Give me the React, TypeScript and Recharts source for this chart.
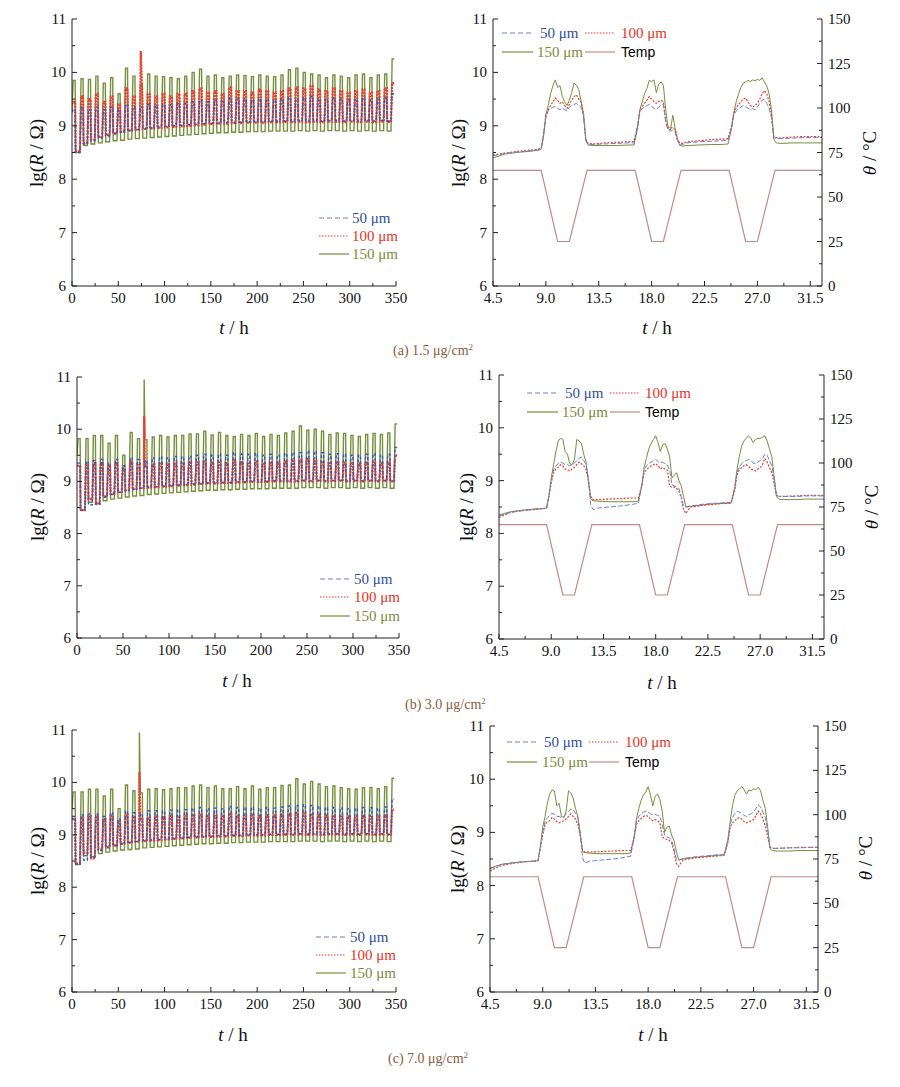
import React from "react";
import { LineChart, Line, XAxis, YAxis } from "recharts";

// ---------- long runs (0-350 h): one entry per temperature cycle ----------
const CYCLE_T = [
  0, 8.6, 16.6, 24.6, 32.6, 40.6, 48.6, 56.6, 64.6, 72.6, 80.6, 88.6, 96.6, 104.6, 112.6,
  120.6, 128.6, 136.6, 144.6, 152.6, 160.6, 168.6, 176.6, 184.6, 192.6, 200.6, 208.6, 216.6,
  224.6, 232.6, 240.6, 248.6, 256.6, 264.6, 272.6, 280.6, 288.6, 296.6, 304.6, 312.6, 320.6,
  328.6, 336.6, 344.6,
];

// (a) 1.5 ug/cm2
const PEAK150_A = [9.85, 9.88, 9.87, 9.93, 9.8, 9.9, 9.6, 10.08, 9.93, 9.78, 9.97, 9.93, 9.92, 9.9, 9.88, 9.93, 10.0, 10.06, 9.93, 9.95, 9.9, 9.93, 9.95, 9.94, 9.92, 9.95, 9.93, 9.92, 9.95, 10.05, 10.08, 10.0, 9.97, 9.95, 9.9, 9.95, 9.93, 9.9, 9.95, 9.97, 9.9, 9.95, 9.97, 10.25];
const PEAK100_A = [9.45, 9.55, 9.5, 9.6, 9.45, 9.55, 9.4, 9.7, 9.55, 9.5, 9.6, 9.55, 9.6, 9.55, 9.6, 9.6, 9.65, 9.7, 9.62, 9.65, 9.6, 9.72, 9.65, 9.65, 9.62, 9.68, 9.65, 9.62, 9.65, 9.7, 9.72, 9.7, 9.75, 9.68, 9.65, 9.7, 9.65, 9.62, 9.65, 9.68, 9.62, 9.65, 9.7, 9.8];
const PEAK50_A = [9.3, 9.35, 9.3, 9.35, 9.3, 9.35, 9.3, 9.4, 9.35, 9.35, 9.4, 9.38, 9.4, 9.4, 9.42, 9.42, 9.45, 9.48, 9.45, 9.48, 9.45, 9.52, 9.5, 9.5, 9.48, 9.5, 9.5, 9.48, 9.5, 9.52, 9.5, 9.52, 9.55, 9.5, 9.5, 9.52, 9.5, 9.48, 9.5, 9.52, 9.48, 9.5, 9.52, 9.6];
const BASE150_A = [9.3, 8.5, 8.63, 8.66, 8.68, 8.7, 8.72, 8.73, 8.75, 8.76, 8.77, 8.78, 8.79, 8.8, 8.81, 8.82, 8.83, 8.84, 8.85, 8.86, 8.87, 8.87, 8.88, 8.88, 8.89, 8.89, 8.89, 8.9, 8.9, 8.9, 8.9, 8.91, 8.9, 8.91, 8.9, 8.91, 8.91, 8.9, 8.91, 8.9, 8.91, 8.9, 8.91, 8.9];
const BASE100_A = [9.4, 8.52, 8.68, 8.74, 8.79, 8.83, 8.86, 8.89, 8.91, 8.93, 8.94, 8.95, 8.96, 8.97, 8.98, 8.99, 9.0, 9.01, 9.02, 9.03, 9.04, 9.04, 9.05, 9.05, 9.06, 9.06, 9.06, 9.07, 9.07, 9.07, 9.07, 9.08, 9.07, 9.08, 9.07, 9.08, 9.08, 9.07, 9.08, 9.07, 9.08, 9.07, 9.08, 9.07];
const BASE50_A = [9.25, 8.5, 8.66, 8.72, 8.77, 8.81, 8.85, 8.88, 8.91, 8.93, 8.95, 8.96, 8.98, 8.99, 9.0, 9.01, 9.02, 9.03, 9.04, 9.05, 9.05, 9.06, 9.06, 9.07, 9.07, 9.08, 9.08, 9.08, 9.09, 9.09, 9.09, 9.1, 9.09, 9.1, 9.09, 9.1, 9.1, 9.09, 9.1, 9.09, 9.1, 9.09, 9.1, 9.09];
const SPIKE_A = { t: 74.3, s100: 10.4 };

// (b) 3.0 ug/cm2
const PEAK150_B = [9.82, 9.82, 9.88, 9.88, 9.73, 9.88, 9.5, 9.94, 9.82, 9.8, 9.85, 9.88, 9.85, 9.88, 9.88, 9.91, 9.91, 9.96, 9.89, 9.94, 9.88, 9.86, 9.9, 9.88, 9.92, 9.86, 9.9, 9.88, 9.93, 9.96, 10.06, 9.98, 10.0, 9.96, 9.9, 9.93, 9.92, 9.88, 9.86, 9.9, 9.92, 9.9, 9.93, 10.1];
const PEAK100_B = [9.3, 9.32, 9.35, 9.35, 9.3, 9.35, 9.25, 9.38, 9.33, 9.3, 9.32, 9.35, 9.33, 9.35, 9.35, 9.37, 9.38, 9.4, 9.36, 9.38, 9.35, 9.4, 9.37, 9.36, 9.38, 9.35, 9.37, 9.36, 9.38, 9.4, 9.42, 9.43, 9.4, 9.38, 9.36, 9.37, 9.36, 9.35, 9.34, 9.36, 9.37, 9.35, 9.36, 9.5];
const PEAK50_B = [9.35, 9.38, 9.4, 9.42, 9.35, 9.42, 9.3, 9.45, 9.42, 9.4, 9.45, 9.47, 9.45, 9.48, 9.47, 9.48, 9.5, 9.52, 9.5, 9.52, 9.5, 9.55, 9.52, 9.52, 9.53, 9.5, 9.52, 9.5, 9.53, 9.55, 9.55, 9.58, 9.57, 9.55, 9.52, 9.53, 9.52, 9.5, 9.5, 9.52, 9.53, 9.5, 9.52, 9.65];
const BASE150_B = [9.5, 8.45, 8.6, 8.58, 8.63, 8.66, 8.68, 8.7, 8.72, 8.73, 8.75, 8.76, 8.77, 8.78, 8.79, 8.8, 8.81, 8.82, 8.83, 8.83, 8.84, 8.84, 8.85, 8.85, 8.86, 8.86, 8.86, 8.87, 8.87, 8.87, 8.87, 8.88, 8.88, 8.88, 8.87, 8.88, 8.88, 8.87, 8.88, 8.87, 8.88, 8.87, 8.88, 8.87];
const BASE100_B = [9.3, 8.45, 8.66, 8.57, 8.71, 8.76, 8.8, 8.83, 8.85, 8.87, 8.88, 8.89, 8.9, 8.91, 8.92, 8.93, 8.94, 8.95, 8.96, 8.96, 8.97, 8.97, 8.98, 8.98, 8.99, 8.99, 8.99, 9.0, 9.0, 9.0, 9.0, 9.01, 9.0, 9.01, 9.0, 9.01, 9.01, 9.0, 9.01, 9.0, 9.01, 9.0, 9.01, 9.0];
const BASE50_B = [9.35, 8.45, 8.55, 8.57, 8.7, 8.75, 8.79, 8.82, 8.85, 8.87, 8.89, 8.9, 8.91, 8.92, 8.93, 8.94, 8.95, 8.96, 8.97, 8.97, 8.98, 8.98, 8.99, 8.99, 9.0, 9.0, 9.0, 9.01, 9.01, 9.01, 9.01, 9.02, 9.01, 9.02, 9.01, 9.02, 9.02, 9.01, 9.02, 9.01, 9.02, 9.01, 9.02, 9.01];
const SPIKE_B = { t: 73.0, s150: 10.95, s100: 10.25 };

// (c) 7.0 ug/cm2
const PEAK150_C = [9.82, 9.82, 9.87, 9.87, 9.74, 9.87, 9.5, 9.95, 9.84, 9.8, 9.87, 9.88, 9.86, 9.88, 9.9, 9.9, 9.93, 9.95, 9.9, 9.93, 9.88, 9.88, 9.92, 9.88, 9.93, 9.87, 9.9, 9.9, 9.94, 9.95, 10.07, 9.97, 10.02, 9.97, 9.92, 9.93, 9.9, 9.88, 9.87, 9.9, 9.9, 9.88, 9.92, 10.08];
const PEAK100_C = [9.3, 9.33, 9.36, 9.35, 9.3, 9.36, 9.25, 9.38, 9.34, 9.3, 9.33, 9.35, 9.34, 9.36, 9.35, 9.37, 9.38, 9.39, 9.36, 9.38, 9.36, 9.4, 9.37, 9.37, 9.38, 9.36, 9.37, 9.37, 9.39, 9.4, 9.42, 9.42, 9.4, 9.38, 9.37, 9.36, 9.36, 9.35, 9.35, 9.36, 9.36, 9.35, 9.37, 9.48];
const PEAK50_C = [9.35, 9.38, 9.4, 9.4, 9.35, 9.42, 9.3, 9.45, 9.42, 9.4, 9.46, 9.46, 9.45, 9.47, 9.48, 9.48, 9.5, 9.52, 9.5, 9.51, 9.5, 9.54, 9.52, 9.52, 9.52, 9.5, 9.52, 9.51, 9.53, 9.55, 9.56, 9.57, 9.56, 9.54, 9.52, 9.52, 9.51, 9.5, 9.5, 9.52, 9.52, 9.5, 9.53, 9.68];
const BASE150_C = [9.5, 8.43, 8.6, 8.58, 8.64, 8.67, 8.69, 8.71, 8.72, 8.73, 8.75, 8.76, 8.77, 8.78, 8.79, 8.8, 8.81, 8.82, 8.83, 8.83, 8.84, 8.84, 8.85, 8.85, 8.86, 8.86, 8.86, 8.87, 8.87, 8.87, 8.87, 8.88, 8.88, 8.88, 8.87, 8.88, 8.88, 8.87, 8.88, 8.87, 8.88, 8.87, 8.88, 8.87];
const BASE100_C = [9.3, 8.45, 8.66, 8.55, 8.72, 8.77, 8.8, 8.83, 8.85, 8.87, 8.88, 8.89, 8.9, 8.91, 8.92, 8.93, 8.94, 8.95, 8.96, 8.96, 8.97, 8.97, 8.98, 8.98, 8.99, 8.99, 8.99, 9.0, 9.0, 9.0, 9.0, 9.01, 9.0, 9.01, 9.0, 9.01, 9.01, 9.0, 9.01, 9.0, 9.01, 9.0, 9.01, 9.0];
const BASE50_C = [9.35, 8.44, 8.52, 8.57, 8.7, 8.75, 8.79, 8.82, 8.85, 8.87, 8.89, 8.9, 8.91, 8.92, 8.93, 8.94, 8.95, 8.96, 8.97, 8.97, 8.98, 8.98, 8.99, 8.99, 9.0, 9.0, 9.0, 9.01, 9.01, 9.01, 9.01, 9.02, 9.01, 9.02, 9.01, 9.02, 9.02, 9.01, 9.02, 9.01, 9.02, 9.01, 9.02, 9.01];
const SPIKE_C = { t: 72.8, s150: 10.95, s100: 10.2 };

// ---------- zoomed window (4.5-32.5 h) ----------
const ZT = [
  4.5, 5.5, 6.5, 7.5, 8.3, 8.6, 8.8, 9.0, 9.2, 9.4,
  9.6, 9.8, 10.0, 10.2, 10.4, 10.6, 10.8, 11.0, 11.2, 11.4,
  11.6, 11.8, 12.0, 12.2, 12.4, 12.6, 13.0, 14.0, 15.0, 16.0,
  16.5, 16.8, 17.0, 17.2, 17.4, 17.6, 17.8, 18.0, 18.2, 18.4,
  18.6, 18.8, 19.0, 19.2, 19.4, 19.6, 19.8, 20.0, 20.2, 20.4,
  20.6, 21.0, 22.0, 23.0, 24.0, 24.5, 24.8, 25.0, 25.2, 25.4,
  25.6, 25.8, 26.0, 26.2, 26.4, 26.6, 26.8, 27.0, 27.2, 27.4,
  27.6, 27.8, 28.0, 28.2, 28.4, 28.6, 29.0, 30.0, 31.0, 32.0,
  32.5,
];
const Z150_A = [
  8.4, 8.47, 8.5, 8.52, 8.54, 8.56, 8.8, 9.2, 9.38, 9.6,
  9.75, 9.86, 9.72, 9.75, 9.55, 9.45, 9.38, 9.48, 9.62, 9.8,
  9.76, 9.68, 9.45, 9.2, 8.72, 8.64, 8.63, 8.63, 8.63, 8.64,
  8.64, 8.95, 9.3, 9.45, 9.6, 9.7, 9.85, 9.83, 9.86, 9.62,
  9.78, 9.82, 9.76, 9.3, 8.95, 8.92, 9.2, 8.95, 8.75, 8.63,
  8.62, 8.63, 8.64, 8.65, 8.65, 8.66, 8.95, 9.25, 9.45, 9.6,
  9.72, 9.8, 9.82, 9.85, 9.83, 9.86, 9.84, 9.87, 9.85, 9.9,
  9.82, 9.75, 9.6, 9.3, 8.75, 8.68, 8.67, 8.68, 8.68, 8.68,
  8.68,
];
const Z100_A = [
  8.45, 8.49, 8.52, 8.54, 8.56, 8.58, 8.85, 9.2, 9.3, 9.38,
  9.45, 9.52, 9.48, 9.42, 9.45, 9.38, 9.33, 9.4, 9.48, 9.55,
  9.58, 9.5, 9.45, 9.25, 8.75, 8.67, 8.66, 8.68, 8.69, 8.7,
  8.71, 9.0, 9.3, 9.36, 9.42, 9.48, 9.55, 9.5, 9.45, 9.42,
  9.45, 9.48, 9.45, 9.1, 8.98, 8.95, 8.97, 8.93, 8.75, 8.68,
  8.67, 8.7, 8.72, 8.74, 8.75, 8.76, 9.0, 9.25, 9.33, 9.4,
  9.45, 9.5, 9.52, 9.45, 9.38, 9.35, 9.38, 9.42, 9.5, 9.6,
  9.66, 9.6, 9.45, 9.2, 8.8, 8.78, 8.77, 8.79, 8.8, 8.8,
  8.79,
];
const Z50_A = [
  8.44, 8.48, 8.51, 8.53, 8.55, 8.57, 8.82, 9.15, 9.28, 9.32,
  9.35, 9.36, 9.33, 9.3, 9.33, 9.3, 9.28, 9.35, 9.38, 9.4,
  9.42, 9.38, 9.35, 9.2, 8.74, 8.65, 8.65, 8.66, 8.67, 8.68,
  8.68, 8.98, 9.27, 9.32, 9.35, 9.38, 9.4, 9.36, 9.33, 9.3,
  9.35, 9.38, 9.4, 9.05, 8.92, 8.9, 8.92, 8.88, 8.72, 8.64,
  8.65, 8.68, 8.7, 8.71, 8.72, 8.73, 8.95, 9.2, 9.28, 9.32,
  9.35, 9.38, 9.36, 9.33, 9.3, 9.32, 9.3, 9.35, 9.42, 9.48,
  9.5, 9.42, 9.32, 9.15, 8.78, 8.76, 8.76, 8.77, 8.78, 8.78,
  8.78,
];
const Z150_B = [
  8.35, 8.41, 8.44, 8.46, 8.47, 8.48, 8.7, 9.05, 9.3, 9.55,
  9.75, 9.8, 9.78, 9.55, 9.5, 9.32, 9.3, 9.4, 9.78, 9.75,
  9.7, 9.5, 9.35, 9.0, 8.65, 8.62, 8.61, 8.6, 8.6, 8.6,
  8.61, 8.9, 9.25, 9.42, 9.6, 9.7, 9.78, 9.85, 9.72, 9.55,
  9.68, 9.7, 9.6, 9.45, 9.05, 9.1, 9.15, 9.0, 8.9, 8.7,
  8.5, 8.51, 8.54, 8.56, 8.57, 8.58, 8.85, 9.2, 9.45, 9.65,
  9.75, 9.8, 9.85, 9.8, 9.72, 9.78, 9.8, 9.8, 9.82, 9.85,
  9.75, 9.6, 9.45, 9.1, 8.7, 8.65, 8.64, 8.64, 8.65, 8.65,
  8.65,
];
const Z100_B = [
  8.3, 8.4, 8.43, 8.45, 8.47, 8.48, 8.7, 8.95, 9.15, 9.22,
  9.25, 9.3, 9.28, 9.22, 9.2, 9.18, 9.22, 9.25, 9.3, 9.35,
  9.32, 9.28, 9.2, 9.0, 8.7, 8.64, 8.64, 8.65, 8.66, 8.67,
  8.67, 8.9, 9.15, 9.2, 9.25, 9.28, 9.3, 9.32, 9.28, 9.22,
  9.25, 9.22, 9.2, 8.9, 8.87, 8.88, 8.85, 8.8, 8.68, 8.45,
  8.38, 8.5, 8.53, 8.55, 8.57, 8.57, 8.8, 9.1, 9.2, 9.25,
  9.28, 9.3, 9.27, 9.22, 9.2, 9.18, 9.22, 9.25, 9.3, 9.42,
  9.35, 9.25, 9.15, 8.95, 8.72, 8.7, 8.7, 8.71, 8.72, 8.72,
  8.72,
];
const Z50_B = [
  8.33, 8.4, 8.43, 8.46, 8.47, 8.48, 8.72, 9.0, 9.2, 9.28,
  9.32, 9.35, 9.33, 9.3, 9.3, 9.28, 9.3, 9.33, 9.38, 9.42,
  9.45, 9.38, 9.3, 9.05, 8.55, 8.45, 8.48, 8.5, 8.52, 8.55,
  8.57, 8.9, 9.2, 9.28, 9.32, 9.35, 9.38, 9.4, 9.36, 9.33,
  9.35, 9.32, 9.3, 9.2, 8.92, 8.9, 8.88, 8.85, 8.7, 8.52,
  8.5, 8.52, 8.55, 8.57, 8.58, 8.59, 8.85, 9.15, 9.25, 9.32,
  9.36, 9.38, 9.4, 9.38, 9.33, 9.32, 9.35, 9.38, 9.42, 9.5,
  9.48, 9.38, 9.28, 9.05, 8.72, 8.7, 8.7, 8.7, 8.71, 8.71,
  8.71,
];
const Z150_C = [
  8.33, 8.4, 8.43, 8.45, 8.46, 8.47, 8.75, 9.1, 9.3, 9.55,
  9.72, 9.8, 9.78, 9.5, 9.55, 9.3, 9.28, 9.4, 9.78, 9.74,
  9.65, 9.45, 9.3, 8.95, 8.64, 8.62, 8.61, 8.6, 8.6, 8.6,
  8.61, 8.9, 9.25, 9.45, 9.6, 9.7, 9.76, 9.86, 9.7, 9.5,
  9.68, 9.72, 9.62, 9.4, 9.0, 9.1, 9.12, 8.95, 8.85, 8.65,
  8.48, 8.5, 8.53, 8.55, 8.57, 8.58, 8.85, 9.2, 9.5, 9.7,
  9.78, 9.82, 9.86, 9.8, 9.72, 9.8, 9.78, 9.82, 9.8, 9.85,
  9.78, 9.6, 9.45, 9.1, 8.7, 8.66, 8.65, 8.65, 8.66, 8.66,
  8.66,
];
const Z100_C = [
  8.28, 8.38, 8.42, 8.45, 8.46, 8.47, 8.7, 8.95, 9.15, 9.2,
  9.22, 9.28, 9.25, 9.2, 9.18, 9.2, 9.22, 9.25, 9.3, 9.35,
  9.3, 9.25, 9.15, 8.95, 8.68, 8.63, 8.63, 8.64, 8.65, 8.66,
  8.66, 8.9, 9.15, 9.22, 9.26, 9.3, 9.32, 9.3, 9.25, 9.22,
  9.24, 9.22, 9.18, 8.92, 8.88, 8.87, 8.85, 8.8, 8.65, 8.42,
  8.36, 8.49, 8.52, 8.54, 8.56, 8.57, 8.8, 9.1, 9.18, 9.22,
  9.26, 9.28, 9.25, 9.2, 9.18, 9.2, 9.22, 9.24, 9.32, 9.4,
  9.35, 9.25, 9.12, 8.92, 8.72, 8.7, 8.7, 8.71, 8.72, 8.72,
  8.72,
];
const Z50_C = [
  8.32, 8.4, 8.43, 8.45, 8.46, 8.47, 8.72, 9.0, 9.2, 9.28,
  9.32, 9.36, 9.34, 9.3, 9.3, 9.28, 9.3, 9.34, 9.4, 9.44,
  9.42, 9.36, 9.28, 9.02, 8.52, 8.42, 8.46, 8.48, 8.5, 8.53,
  8.55, 8.9, 9.2, 9.3, 9.35, 9.38, 9.4, 9.38, 9.35, 9.33,
  9.34, 9.32, 9.3, 9.15, 8.95, 8.92, 8.9, 8.85, 8.7, 8.5,
  8.48, 8.51, 8.54, 8.56, 8.58, 8.59, 8.85, 9.15, 9.28, 9.35,
  9.4, 9.38, 9.36, 9.32, 9.3, 9.33, 9.35, 9.38, 9.45, 9.52,
  9.48, 9.38, 9.28, 9.05, 8.72, 8.7, 8.7, 8.71, 8.71, 8.72,
  8.72,
];
const TEMP_T = [4.5, 8.6, 10.0, 11.0, 12.5, 16.6, 18.0, 19.0, 20.5, 24.6, 26.0, 27.0, 28.5, 32.5];
const TEMP_V = [65, 65, 25, 25, 65, 65, 25, 25, 65, 65, 25, 25, 65, 65];

// ---------- ticks and labels ----------
const LONG_X_TICKS = [0, 25, 50, 75, 100, 125, 150, 175, 200, 225, 250, 275, 300, 325, 350];
const ZOOM_X_TICKS = [4.5, 6.75, 9, 11.25, 13.5, 15.75, 18, 20.25, 22.5, 24.75, 27, 29.25, 31.5];
const R_TICKS = [6, 6.5, 7, 7.5, 8, 8.5, 9, 9.5, 10, 10.5, 11];
const TEMP_TICKS = [0, 12.5, 25, 37.5, 50, 62.5, 75, 87.5, 100, 112.5, 125, 137.5, 150];
const SERIES_NAMES = ["50 μm", "100 μm", "150 μm"];
const CAPTIONS = ["(a) 1.5 μg/cm", "(b) 3.0 μg/cm", "(c) 7.0 μg/cm"];

const SERIF = "'Liberation Serif', 'Times New Roman', serif";
const SANS = "'Liberation Sans', Arial, sans-serif";
const INK = "#111";
const AXIS = "#222";
const C50 = "#6a82cc";
const C50_DENSE = "#3856b4";
const C100 = "#ee3b2c";
const C150 = "#74903a";
const CTEMP = "#c48888";
const TXT50 = "#2f4d9e";
const TXT100 = "#e8321e";
const TXT150 = "#7d8a3a";
const CAPTION = "#8a5a3c";

type Pt = { t: number; v: number };
type Box = { l: number; t: number; r: number; b: number };

function cycleSeries(base: number[], peak: number[], spike?: number, spikeT?: number): Pt[] {
  const pts: Pt[] = [];
  CYCLE_T.forEach((c, k) => {
    pts.push({ t: c, v: base[k] });
    pts.push({ t: c + 1.2, v: peak[k] });
    pts.push({ t: c + 3.4, v: peak[k] });
    if (k + 1 < CYCLE_T.length) pts.push({ t: c + 3.9, v: base[k + 1] });
  });
  if (spike !== undefined && spikeT !== undefined) pts.push({ t: spikeT, v: spike });
  return pts.sort((a, b) => a.t - b.t);
}

const zoomSeries = (vals: number[]): Pt[] => ZT.map((t, i) => ({ t, v: vals[i] }));
const TEMP_DATA = TEMP_T.map((t, i) => ({ t, temp: TEMP_V[i] }));

const near = (a: number, b: number) => Math.abs(a - b) < 1e-6;
const textStyle = (family: string, size: number) => ({ fontFamily: family, fontSize: size });

function bottomTick(isMajor: (v: number) => boolean, fmt: (v: number) => string) {
  return (p: any) => {
    const v = p.payload.value as number;
    const major = isMajor(v);
    return (
      <g>
        <line x1={p.x} x2={p.x} y1={p.y} y2={p.y - (major ? 5 : 3)} stroke={AXIS} />
        {major ? (
          <text x={p.x} y={p.y + 17} textAnchor="middle" style={textStyle(SERIF, 15)} fill={INK}>
            {fmt(v)}
          </text>
        ) : null}
      </g>
    );
  };
}

function sideTick(side: "left" | "right", isMajor: (v: number) => boolean) {
  return (p: any) => {
    const v = p.payload.value as number;
    const major = isMajor(v);
    const dir = side === "left" ? 1 : -1;
    return (
      <g>
        <line x1={p.x} x2={p.x + dir * (major ? 5 : 3)} y1={p.y} y2={p.y} stroke={AXIS} />
        {major ? (
          <text
            x={p.x - dir * 6}
            y={p.y + 5}
            textAnchor={side === "left" ? "end" : "start"}
            style={textStyle(SERIF, 15)}
            fill={INK}
          >
            {String(v)}
          </text>
        ) : null}
      </g>
    );
  };
}

const PAD_L = 60;
const PAD_T = 12;
const PAD_R = 50;
const PAD_B = 30;

const longXTick = bottomTick((v) => v % 50 === 0, (v) => String(v));
const zoomXTick = bottomTick((v) => near((v - 4.5) / 4.5, Math.round((v - 4.5) / 4.5)), (v) => v.toFixed(1));
const rTickLeft = sideTick("left", (v) => Number.isInteger(v));
const tempTick = sideTick("right", (v) => v % 25 === 0);

function LongPanel({ box, s50, s100, s150 }: { box: Box; s50: Pt[]; s100: Pt[]; s150: Pt[] }) {
  const w = box.r - box.l + PAD_L + PAD_R;
  const h = box.b - box.t + PAD_T + PAD_B;
  return (
    <div style={{ position: "absolute", left: box.l - PAD_L, top: box.t - PAD_T }}>
      <LineChart width={w} height={h} margin={{ top: PAD_T, right: PAD_R, left: 0, bottom: 0 }}>
        <XAxis
          dataKey="t"
          type="number"
          domain={[0, 350]}
          ticks={LONG_X_TICKS}
          interval={0}
          height={PAD_B}
          tickSize={0}
          tickMargin={0}
          tickLine={false}
          axisLine={{ stroke: AXIS }}
          tick={longXTick}
          allowDataOverflow
        />
        <YAxis
          type="number"
          domain={[6, 11]}
          ticks={R_TICKS}
          interval={0}
          width={PAD_L}
          tickSize={0}
          tickMargin={0}
          tickLine={false}
          axisLine={{ stroke: AXIS }}
          tick={rTickLeft}
          allowDataOverflow
        />
        <Line data={s150} dataKey="v" stroke={C150} strokeWidth={1.4} dot={false} isAnimationActive={false} />
        <Line data={s100} dataKey="v" stroke={C100} strokeWidth={2.2} strokeDasharray="2 1" dot={false} isAnimationActive={false} />
        <Line data={s50} dataKey="v" stroke={C50_DENSE} strokeWidth={1.4} strokeDasharray="3 2" dot={false} isAnimationActive={false} />
      </LineChart>
    </div>
  );
}

function ZoomPanel({ box, s50, s100, s150 }: { box: Box; s50: Pt[]; s100: Pt[]; s150: Pt[] }) {
  const w = box.r - box.l + PAD_L + PAD_R;
  const h = box.b - box.t + PAD_T + PAD_B;
  return (
    <div style={{ position: "absolute", left: box.l - PAD_L, top: box.t - PAD_T }}>
      <LineChart width={w} height={h} margin={{ top: PAD_T, right: 0, left: 0, bottom: 0 }}>
        <XAxis
          dataKey="t"
          type="number"
          domain={[4.5, 32.5]}
          ticks={ZOOM_X_TICKS}
          interval={0}
          height={PAD_B}
          tickSize={0}
          tickMargin={0}
          tickLine={false}
          axisLine={{ stroke: AXIS }}
          tick={zoomXTick}
          allowDataOverflow
        />
        <YAxis
          yAxisId="r"
          type="number"
          domain={[6, 11]}
          ticks={R_TICKS}
          interval={0}
          width={PAD_L}
          tickSize={0}
          tickMargin={0}
          tickLine={false}
          axisLine={{ stroke: AXIS }}
          tick={rTickLeft}
          allowDataOverflow
        />
        <YAxis
          yAxisId="temp"
          orientation="right"
          type="number"
          domain={[0, 150]}
          ticks={TEMP_TICKS}
          interval={0}
          width={PAD_R}
          tickSize={0}
          tickMargin={0}
          tickLine={false}
          axisLine={{ stroke: AXIS }}
          tick={tempTick}
          allowDataOverflow
        />
        <Line yAxisId="r" data={s150} dataKey="v" stroke={C150} strokeWidth={1} dot={false} isAnimationActive={false} />
        <Line yAxisId="r" data={s100} dataKey="v" stroke={C100} strokeWidth={1.2} strokeDasharray="2 1.5" dot={false} isAnimationActive={false} />
        <Line yAxisId="r" data={s50} dataKey="v" stroke={C50} strokeWidth={1} strokeDasharray="5 2" dot={false} isAnimationActive={false} />
        <Line yAxisId="temp" data={TEMP_DATA} dataKey="temp" stroke={CTEMP} strokeWidth={1.2} dot={false} isAnimationActive={false} />
      </LineChart>
    </div>
  );
}

const LONG_BOXES: Box[] = [
  { l: 72, t: 19, r: 396, b: 286 },
  { l: 77, t: 377, r: 399, b: 638 },
  { l: 72, t: 730, r: 396, b: 992 },
];
const ZOOM_BOXES: Box[] = [
  { l: 493, t: 19, r: 822, b: 286 },
  { l: 499, t: 375, r: 824, b: 639 },
  { l: 490, t: 726, r: 818, b: 992 },
];

// overlay text placement
const LONG_YLABEL = [[36, 153], [37, 507], [37, 861]];
const ZOOM_YLABEL = [[458, 153], [466, 507], [457, 859]];
const TEMP_LABEL = [[869, 153], [871, 507], [865, 858]];
const LONG_XLABEL = [[234, 327], [237, 680], [233, 1034]];
const ZOOM_XLABEL = [[657, 327], [662, 682], [653, 1034]];
const CAPTION_POS = [[393, 355], [405, 709], [388, 1063]];
const LONG_LEGEND = [
  { x1: 319, x2: 349, tx: 352, ys: [218, 236, 254] },
  { x1: 320, x2: 350, tx: 354, ys: [579, 597, 616] },
  { x1: 316, x2: 346, tx: 350, ys: [937, 955, 973] },
];
const ZOOM_LEGEND = [
  { a1: 502, a2: 533, at: 540, at2: 537, b1: 585, b2: 615, bt: 621, y1: 33, y2: 52 },
  { a1: 527, a2: 558, at: 565, at2: 562, b1: 610, b2: 640, bt: 645, y1: 393, y2: 412 },
  { a1: 507, a2: 537, at: 544, at2: 542, b1: 589, b2: 619, bt: 625, y1: 742, y2: 762 },
];

function RotLabel({ x, y, children }: { x: number; y: number; children: React.ReactNode }) {
  return (
    <text
      x={x}
      y={y}
      transform={`rotate(-90 ${x} ${y})`}
      textAnchor="middle"
      dominantBaseline="central"
      style={textStyle(SERIF, 19)}
      fill={INK}
    >
      {children}
    </text>
  );
}

function Overlay() {
  const styles = [
    { stroke: C50, dash: "5 3", fill: TXT50 },
    { stroke: C100, dash: "1.5 1.5", fill: TXT100 },
    { stroke: C150, dash: undefined, fill: TXT150 },
  ];
  return (
    <svg width={900} height={1087} style={{ position: "absolute", left: 0, top: 0, pointerEvents: "none" }}>
      {[0, 1, 2].map((i) => {
        const L = ZOOM_LEGEND[i];
        return (
          <g key={i}>
            <RotLabel x={LONG_YLABEL[i][0]} y={LONG_YLABEL[i][1]}>
              lg(<tspan fontStyle="italic">R</tspan> / Ω)
            </RotLabel>
            <RotLabel x={ZOOM_YLABEL[i][0]} y={ZOOM_YLABEL[i][1]}>
              lg(<tspan fontStyle="italic">R</tspan> / Ω)
            </RotLabel>
            <RotLabel x={TEMP_LABEL[i][0]} y={TEMP_LABEL[i][1]}>
              <tspan fontStyle="italic">θ</tspan> / °C
            </RotLabel>
            {[LONG_XLABEL[i], ZOOM_XLABEL[i]].map(([x, y], j) => (
              <text key={j} x={x} y={y} textAnchor="middle" dominantBaseline="central" style={textStyle(SERIF, 19)} fill={INK}>
                <tspan fontStyle="italic">t</tspan> / h
              </text>
            ))}
            <text x={CAPTION_POS[i][0]} y={CAPTION_POS[i][1]} style={textStyle(SERIF, 14)} fill={CAPTION}>
              {CAPTIONS[i]}
              <tspan dy={-5} fontSize={9}>2</tspan>
            </text>
            {styles.map((s, j) => (
              <g key={j}>
                <line
                  x1={LONG_LEGEND[i].x1}
                  x2={LONG_LEGEND[i].x2}
                  y1={LONG_LEGEND[i].ys[j]}
                  y2={LONG_LEGEND[i].ys[j]}
                  stroke={s.stroke}
                  strokeDasharray={s.dash}
                  strokeWidth={1.2}
                />
                <text x={LONG_LEGEND[i].tx} y={LONG_LEGEND[i].ys[j] + 5} style={textStyle(SERIF, 15)} fill={s.fill}>
                  {SERIES_NAMES[j]}
                </text>
              </g>
            ))}
            <line x1={L.a1} x2={L.a2} y1={L.y1} y2={L.y1} stroke={C50} strokeDasharray="5 3" strokeWidth={1.2} />
            <text x={L.at} y={L.y1 + 5} style={textStyle(SERIF, 15)} fill={TXT50}>{SERIES_NAMES[0]}</text>
            <line x1={L.b1} x2={L.b2} y1={L.y1} y2={L.y1} stroke={C100} strokeDasharray="1.5 1.5" strokeWidth={1.2} />
            <text x={L.bt} y={L.y1 + 5} style={textStyle(SERIF, 15)} fill={TXT100}>{SERIES_NAMES[1]}</text>
            <line x1={L.a1} x2={L.a2} y1={L.y2} y2={L.y2} stroke={C150} strokeWidth={1.2} />
            <text x={L.at2} y={L.y2 + 5} style={textStyle(SERIF, 15)} fill={TXT150}>{SERIES_NAMES[2]}</text>
            <line x1={L.b1} x2={L.b2} y1={L.y2} y2={L.y2} stroke={CTEMP} strokeWidth={1.2} />
            <text x={L.bt} y={L.y2 + 5} style={textStyle(SANS, 14)} fill="#000">Temp</text>
          </g>
        );
      })}
    </svg>
  );
}

export default function App() {
  const longs = [
    {
      s50: cycleSeries(BASE50_A, PEAK50_A),
      s100: cycleSeries(BASE100_A, PEAK100_A, SPIKE_A.s100, SPIKE_A.t),
      s150: cycleSeries(BASE150_A, PEAK150_A),
    },
    {
      s50: cycleSeries(BASE50_B, PEAK50_B),
      s100: cycleSeries(BASE100_B, PEAK100_B, SPIKE_B.s100, SPIKE_B.t),
      s150: cycleSeries(BASE150_B, PEAK150_B, SPIKE_B.s150, SPIKE_B.t),
    },
    {
      s50: cycleSeries(BASE50_C, PEAK50_C),
      s100: cycleSeries(BASE100_C, PEAK100_C, SPIKE_C.s100, SPIKE_C.t),
      s150: cycleSeries(BASE150_C, PEAK150_C, SPIKE_C.s150, SPIKE_C.t),
    },
  ];
  const zooms = [
    { s50: zoomSeries(Z50_A), s100: zoomSeries(Z100_A), s150: zoomSeries(Z150_A) },
    { s50: zoomSeries(Z50_B), s100: zoomSeries(Z100_B), s150: zoomSeries(Z150_B) },
    { s50: zoomSeries(Z50_C), s100: zoomSeries(Z100_C), s150: zoomSeries(Z150_C) },
  ];
  return (
    <div style={{ position: "absolute", left: 0, top: 0, width: 900, height: 1087, background: "#fff", overflow: "hidden" }}>
      {longs.map((s, i) => (
        <LongPanel key={`l${i}`} box={LONG_BOXES[i]} {...s} />
      ))}
      {zooms.map((s, i) => (
        <ZoomPanel key={`z${i}`} box={ZOOM_BOXES[i]} {...s} />
      ))}
      <Overlay />
    </div>
  );
}
